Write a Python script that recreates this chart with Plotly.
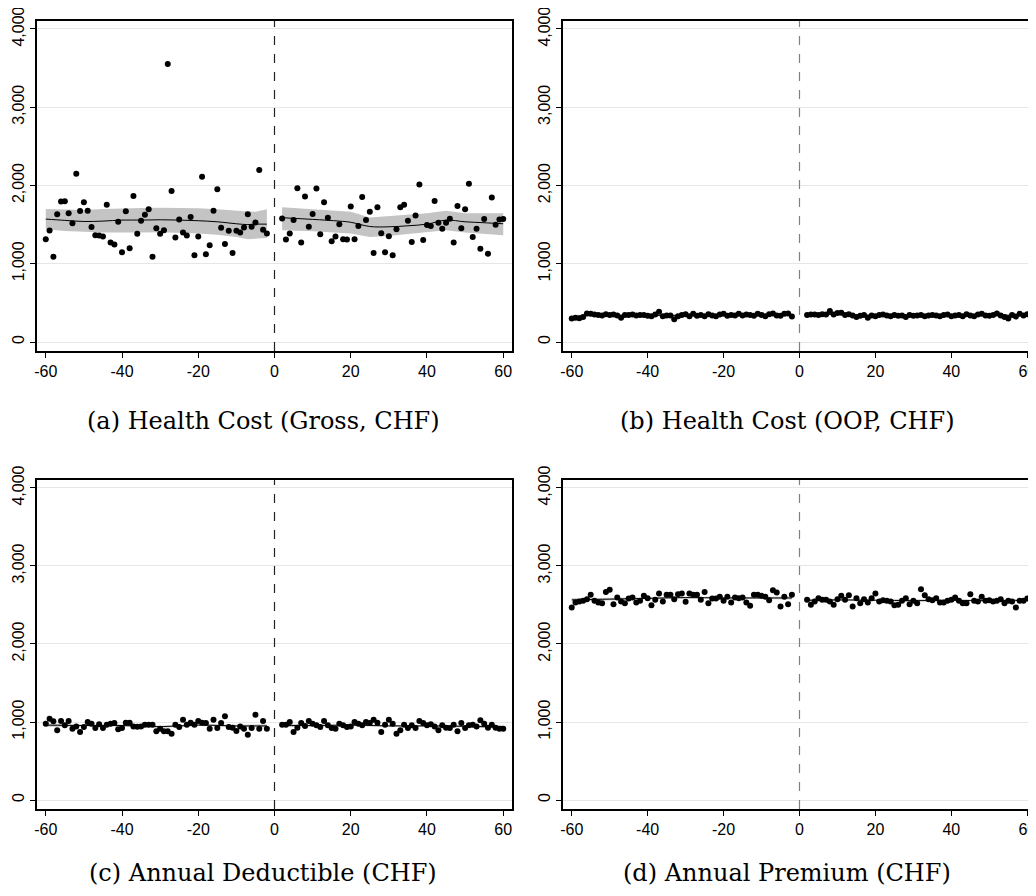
import plotly.graph_objects as go

# ---------------- data ----------------
x_left = list(range(-60, -1))   # -60 .. -2
x_right = list(range(2, 61))    # 2 .. 60

a_left = [1313, 1425, 1090, 1631, 1794, 1798, 1644, 1519, 2150, 1674,
          1785, 1678, 1468, 1365, 1361, 1348, 1755, 1270, 1245, 1536,
          1146, 1670, 1197, 1867, 1382, 1549, 1627, 1695, 1090, 1455,
          1382, 1429, 3553, 1931, 1335, 1567, 1399, 1361, 1597, 1107,
          1348, 2112, 1120, 1236, 1678, 1953, 1459, 1253, 1421, 1137,
          1421, 1399, 1464, 1631, 1472, 1528, 2197, 1433, 1386]
a_right = [1579, 1309, 1386, 1558, 1966, 1270, 1858, 1472, 1635, 1961,
           1378, 1785, 1588, 1288, 1348, 1506, 1313, 1309, 1730, 1313,
           1481, 1854, 1558, 1665, 1137, 1721, 1391, 1146, 1352, 1107,
           1442, 1721, 1755, 1549, 1279, 1618, 2013, 1305, 1494, 1481,
           1803, 1524, 1446, 1524, 1575, 1270, 1738, 1455, 1695, 2021,
           1343, 1446, 1193, 1571, 1129, 1845, 1498, 1567, 1571]

b_left = [300, 310, 305, 320, 365, 360, 350, 345, 340, 355,
          345, 350, 340, 310, 345, 345, 350, 340, 345, 345,
          335, 330, 350, 385, 330, 340, 340, 290, 330, 345,
          355, 330, 360, 335, 345, 330, 355, 340, 330, 350,
          360, 335, 345, 340, 360, 340, 350, 345, 335, 360,
          345, 330, 355, 365, 340, 335, 360, 365, 325]
b_right = [345, 350, 350, 345, 355, 350, 395, 350, 370, 375,
           345, 355, 340, 320, 335, 345, 310, 340, 330, 345,
           350, 340, 330, 345, 335, 340, 320, 345, 335, 340,
           345, 330, 340, 345, 340, 330, 345, 350, 330, 340,
           345, 330, 355, 340, 330, 350, 360, 340, 335, 345,
           365, 340, 320, 300, 345, 325, 360, 340, 355]

c_left = [979, 1043, 1009, 893, 1013, 957, 1013, 914, 944, 871,
          936, 1000, 979, 923, 970, 923, 966, 979, 987, 906,
          923, 991, 991, 944, 940, 944, 966, 966, 966, 880,
          914, 880, 880, 850, 966, 936, 1030, 966, 991, 966,
          1013, 991, 987, 914, 1030, 923, 987, 1073, 936, 927,
          884, 944, 914, 837, 923, 1094, 914, 1013, 914]
c_right = [966, 966, 1000, 871, 927, 987, 948, 1013, 979, 957,
           936, 1013, 957, 923, 914, 979, 957, 936, 944, 1000,
           979, 957, 1000, 987, 1030, 991, 871, 966, 1030, 979,
           850, 893, 966, 923, 957, 923, 1013, 987, 957, 970,
           944, 893, 957, 927, 923, 966, 880, 987, 923, 957,
           966, 944, 1021, 979, 927, 966, 927, 914, 914]

d_left = [2468, 2532, 2545, 2553, 2574, 2630, 2553, 2532, 2523, 2668,
          2694, 2511, 2596, 2545, 2523, 2583, 2596, 2532, 2553, 2617,
          2587, 2498, 2566, 2647, 2545, 2630, 2630, 2574, 2638, 2647,
          2540, 2647, 2630, 2630, 2566, 2668, 2523, 2583, 2583, 2604,
          2553, 2604, 2532, 2596, 2587, 2596, 2532, 2489, 2630, 2630,
          2617, 2604, 2562, 2689, 2660, 2481, 2604, 2511, 2630]
d_right = [2566, 2502, 2545, 2587, 2566, 2566, 2545, 2502, 2574, 2617,
           2566, 2626, 2481, 2587, 2523, 2574, 2532, 2587, 2647, 2545,
           2562, 2553, 2545, 2498, 2502, 2553, 2587, 2511, 2553, 2523,
           2702, 2626, 2574, 2562, 2587, 2532, 2532, 2553, 2566, 2596,
           2553, 2523, 2523, 2638, 2553, 2545, 2604, 2553, 2562, 2545,
           2553, 2574, 2523, 2553, 2545, 2468, 2553, 2553, 2583]

# smoothed fit + confidence band
fa_lx = [-60, -55, -50, -45, -40, -35, -30, -25, -20, -15, -10, -7, -5, -2]
fa_l = [1571, 1554, 1540, 1545, 1558, 1558, 1562, 1558, 1550, 1536, 1511, 1500, 1506, 1506]
fa_l_lo = [1442, 1420, 1408, 1400, 1395, 1398, 1403, 1395, 1386, 1370, 1343, 1313, 1320, 1330]
fa_l_hi = [1700, 1690, 1687, 1698, 1708, 1713, 1717, 1713, 1708, 1695, 1674, 1668, 1665, 1695]
fa_rx = [2, 10, 17, 20, 25, 30, 35, 40, 45, 50, 55, 60]
fa_r = [1588, 1567, 1545, 1530, 1476, 1472, 1485, 1506, 1558, 1536, 1524, 1511]
fa_r_lo = [1429, 1416, 1395, 1386, 1343, 1356, 1380, 1408, 1429, 1399, 1385, 1365]
fa_r_hi = [1721, 1695, 1675, 1665, 1592, 1609, 1625, 1644, 1678, 1644, 1644, 1644]

fb_lx = [-60, -56, -50, -40, -30, -20, -10, -2]
fb_l = [318, 338, 342, 340, 340, 342, 345, 345]
fb_l_lo = [300, 326, 332, 331, 331, 333, 334, 330]
fb_l_hi = [336, 350, 352, 349, 349, 351, 356, 360]
fb_rx = [2, 10, 20, 30, 40, 50, 60]
fb_r = [352, 352, 340, 337, 340, 340, 343]
fb_r_lo = [338, 342, 331, 328, 331, 330, 328]
fb_r_hi = [366, 362, 349, 346, 349, 350, 358]

fc_lx = [-60, -50, -40, -30, -20, -10, -2]
fc_l = [960, 955, 955, 940, 960, 950, 950]
fc_l_lo = [940, 942, 943, 928, 948, 936, 930]
fc_l_hi = [980, 968, 967, 952, 972, 964, 970]
fc_rx = [2, 10, 20, 30, 40, 50, 60]
fc_r = [955, 955, 960, 950, 950, 945, 935]
fc_r_lo = [935, 943, 949, 939, 939, 933, 915]
fc_r_hi = [975, 967, 971, 961, 961, 957, 955]

fd_lx = [-60, -50, -40, -30, -20, -10, -2]
fd_l = [2565, 2575, 2585, 2595, 2590, 2590, 2590]
fd_l_lo = [2545, 2562, 2573, 2583, 2578, 2577, 2570]
fd_l_hi = [2585, 2588, 2597, 2607, 2602, 2603, 2610]
fd_rx = [2, 10, 20, 30, 40, 50, 60]
fd_r = [2560, 2565, 2560, 2555, 2560, 2555, 2560]
fd_r_lo = [2540, 2553, 2549, 2544, 2549, 2543, 2540]
fd_r_hi = [2580, 2577, 2571, 2566, 2571, 2567, 2580]

captions = ["(a) Health Cost (Gross, CHF)", "(b) Health Cost (OOP, CHF)",
            "(c) Annual Deductible (CHF)", "(d) Annual Premium (CHF)"]
y_ticks = [0, 1000, 2000, 3000, 4000]
y_tick_text = ["0", "1,000", "2,000", "3,000", "4,000"]
x_ticks = [-60, -40, -20, 0, 20, 40, 60]
x_tick_text = ["-60", "-40", "-20", "0", "20", "40", "60"]

# ---------------- figure ----------------
# page has an 8px body margin, so figure coords = page coords - 8
W, H = 1028, 888
OFF = 8
fig = go.Figure()

panels = [
    dict(pts=(a_left, a_right), fit=[(fa_lx, fa_l, fa_l_lo, fa_l_hi), (fa_rx, fa_r, fa_r_lo, fa_r_hi)],
         dom_x=(37, 512), dom_y=(21, 351), vcol="#222222"),
    dict(pts=(b_left, b_right), fit=[(fb_lx, fb_l, fb_l_lo, fb_l_hi), (fb_rx, fb_r, fb_r_lo, fb_r_hi)],
         dom_x=(563, 1036), dom_y=(21, 351), vcol="#808080"),
    dict(pts=(c_left, c_right), fit=[(fc_lx, fc_l, fc_l_lo, fc_l_hi), (fc_rx, fc_r, fc_r_lo, fc_r_hi)],
         dom_x=(37, 512), dom_y=(480, 809), vcol="#222222"),
    dict(pts=(d_left, d_right), fit=[(fd_lx, fd_l, fd_l_lo, fd_l_hi), (fd_rx, fd_r, fd_r_lo, fd_r_hi)],
         dom_x=(563, 1036), dom_y=(480, 809), vcol="#808080"),
]

axis_font = dict(family="Liberation Sans, Arial, sans-serif", size=16, color="black")

for i, p in enumerate(panels):
    n = "" if i == 0 else str(i + 1)
    xa, ya = "x" + n, "y" + n
    for fx, fy, lo, hi in p["fit"]:
        fig.add_trace(go.Scatter(x=fx + fx[::-1], y=hi + lo[::-1], fill="toself",
                                 fillcolor="#c4c4c4", line=dict(width=0), mode="lines",
                                 hoverinfo="skip", showlegend=False, xaxis=xa, yaxis=ya))
    for fx, fy, lo, hi in p["fit"]:
        fig.add_trace(go.Scatter(x=fx, y=fy, mode="lines", line=dict(color="black", width=1),
                                 line_shape="spline", showlegend=False, xaxis=xa, yaxis=ya))
    fig.add_trace(go.Scatter(x=x_left + x_right, y=p["pts"][0] + p["pts"][1], mode="markers",
                             marker=dict(color="black", size=6), showlegend=False,
                             xaxis=xa, yaxis=ya))
    fig.add_shape(type="line", x0=0, x1=0, y0=0, y1=1, xref=xa, yref=ya + " domain",
                  line=dict(color=p["vcol"], width=1.2, dash="dash"))

    x0, x1 = p["dom_x"]
    yt, yb = p["dom_y"]
    common = dict(showline=True, linecolor="black", linewidth=1.5, mirror=True,
                  ticks="outside", ticklen=5, tickcolor="black", tickwidth=1,
                  tickfont=axis_font, zeroline=False, automargin=False,
                  ticklabeloverflow="allow")
    fig.update_layout(**{
        ("xaxis" + n): dict(domain=[(x0 - OFF) / W, min(1.0, (x1 - OFF) / W)], range=[-62.3, 62.3],
                            tickvals=x_ticks, ticktext=x_tick_text, showgrid=False,
                            anchor=ya, **common),
        ("yaxis" + n): dict(domain=[1 - (yb - OFF) / H, 1 - (yt - OFF) / H], range=[-115, 4102],
                            tickvals=y_ticks, ticktext=y_tick_text, tickangle=-90,
                            showgrid=True, gridcolor="#e6e6e6", gridwidth=1,
                            anchor=xa, **common),
    })

cap_pos = [(263, 421), (787, 421), (263, 873), (787, 873)]
for txt, (cx, cy) in zip(captions, cap_pos):
    fig.add_annotation(text=txt, x=(cx - OFF) / W, y=1 - (cy - OFF) / H, xref="paper", yref="paper",
                       showarrow=False, xanchor="center", yanchor="middle",
                       font=dict(family="DejaVu Serif, Liberation Serif, serif", size=24, color="black"))

fig.update_layout(width=W, height=H, margin=dict(l=0, r=0, t=0, b=0, autoexpand=False),
                  paper_bgcolor="white", plot_bgcolor="white", showlegend=False)

fig.write_html("out.html")
